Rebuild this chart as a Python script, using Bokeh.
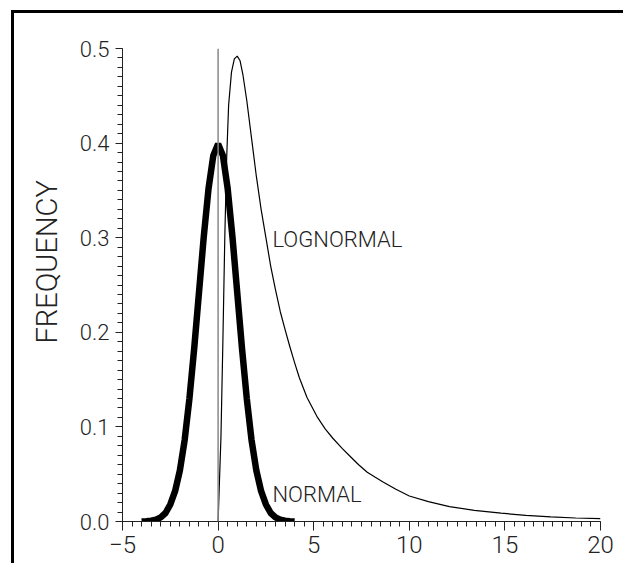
from bokeh.plotting import figure
from bokeh.models import Range1d, SingleIntervalTicker, NumeralTickFormatter, Span, Title
from bokeh.core.properties import value
from bokeh.embed import file_html
from bokeh.resources import INLINE

# ---- data ----
normal_x = [-4.0, -3.75, -3.5, -3.25, -3.0, -2.75, -2.5, -2.25, -2.0, -1.75, -1.5, -1.25, -1.0, -0.75, -0.5, -0.25,
            0.0, 0.25, 0.5, 0.75, 1.0, 1.25, 1.5, 1.75, 2.0, 2.25, 2.5, 2.75, 3.0, 3.25, 3.5, 3.75, 4.0]
normal_y = [0.0001, 0.0004, 0.0009, 0.002, 0.0044, 0.009, 0.018, 0.032, 0.054, 0.086, 0.130, 0.183, 0.242, 0.301, 0.352, 0.387,
            0.399, 0.387, 0.352, 0.301, 0.242, 0.183, 0.130, 0.086, 0.054, 0.032, 0.018, 0.009, 0.0044, 0.002, 0.0009, 0.0004, 0.0001]

lognormal_x = [0.0, 0.15, 0.25, 0.35, 0.45, 0.55, 0.7, 0.85, 1.0, 1.15, 1.3, 1.5, 1.75, 2.0, 2.25, 2.5, 2.75, 3.0, 3.25,
               3.5, 3.75, 4.0, 4.25, 4.65, 5.2, 5.6, 6.0, 6.5, 6.9, 7.35, 7.8, 8.2, 8.65, 9.3, 10.0, 11.0, 12.1, 13.4,
               14.8, 16.1, 17.4, 18.7, 20.0]
lognormal_y = [0.0, 0.09, 0.19, 0.30, 0.385, 0.44, 0.475, 0.489, 0.492, 0.487, 0.472, 0.445, 0.405, 0.365, 0.33, 0.30, 0.27,
               0.245, 0.222, 0.203, 0.185, 0.168, 0.152, 0.131, 0.110, 0.098, 0.088, 0.077, 0.069, 0.060, 0.052, 0.047,
               0.0415, 0.034, 0.027, 0.021, 0.0158, 0.0118, 0.0088, 0.0065, 0.0048, 0.0037, 0.003]

series_labels = ["NORMAL", "LOGNORMAL"]
y_title = "FREQUENCY"

FONT = "Roboto Light"
INK = "#222222"

p = figure(width=612, height=553, output_backend="svg", toolbar_location=None,
           x_range=Range1d(-5, 20), y_range=Range1d(0, 0.5),
           min_border_left=108, min_border_right=26, min_border_top=35, min_border_bottom=45)
# page frame: only its left and top edges are in view
p.styles = {"margin-left": "14px", "margin-top": "13px", "vertical-align": "top",
            "box-shadow": "-3px -3px 0px 0px black"}
p.outline_line_color = None
p.grid.visible = False
p.background_fill_color = "white"
p.border_fill_color = "white"

p.xaxis.ticker = SingleIntervalTicker(interval=5, num_minor_ticks=10)
p.yaxis.ticker = SingleIntervalTicker(interval=0.1, num_minor_ticks=10)
p.yaxis.formatter = NumeralTickFormatter(format="0.0")

for ax in (p.xaxis, p.yaxis):
    ax.axis_line_color = INK
    ax.axis_line_width = 1
    ax.major_tick_line_color = INK
    ax.minor_tick_line_color = INK
    ax.major_tick_in = 0
    ax.minor_tick_in = 0
    ax.major_label_text_font = FONT
    ax.major_label_text_color = INK
    ax.major_label_text_font_style = "normal"

p.xaxis.major_tick_out = 9
p.xaxis.minor_tick_out = 5
p.xaxis.major_label_text_font_size = "24px"
p.xaxis.major_label_standoff = 5

p.yaxis.major_tick_out = 7
p.yaxis.minor_tick_out = 5
p.yaxis.major_label_text_font_size = "22px"
p.yaxis.major_label_standoff = 6

p.add_layout(Title(text=y_title, align="left", offset=178, standoff=26,
                   text_font=FONT, text_font_size="29px", text_font_style="normal",
                   text_color=INK), "left")

p.add_layout(Span(location=0, dimension="height", line_color="#888888", line_width=1.5))

p.line(lognormal_x, lognormal_y, line_color="black", line_width=1.2)
p.line(normal_x, normal_y, line_color="black", line_width=6.5)

p.text(x=[2.84, 2.84], y=[0.0285, 0.298], text=series_labels,
       text_font=value(FONT), text_font_size="22px", text_color=INK,
       text_align="left", text_baseline="middle")

open("out.html", "w").write(file_html(p, INLINE))
